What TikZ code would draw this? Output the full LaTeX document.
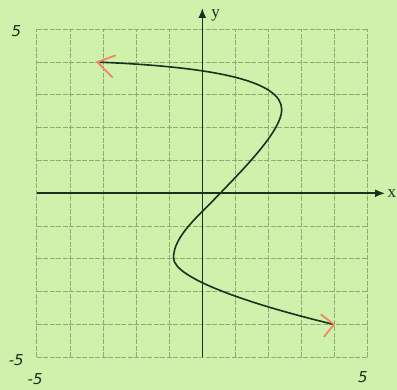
\documentclass[tikz,border=0pt]{standalone}
\usepackage{fontspec}
\usetikzlibrary{arrows.meta}
\setmainfont{Liberation Serif}
\newfontfamily\numfont{DejaVu Sans}
\definecolor{bg}{RGB}{206,242,172}
\definecolor{gridc}{RGB}{145,168,120}
\definecolor{axisc}{RGB}{28,48,28}
\definecolor{arrc}{RGB}{240,135,95}
\begin{document}
\begin{tikzpicture}[x=33.1pt,y=32.8pt,
  gridline/.style={gridc,line width=0.8pt,dash pattern=on 5pt off 1.5pt},
  axisline/.style={axisc,line width=1.6pt,-{Latex[length=10pt,width=8pt]}},
  curveline/.style={axisc,line width=1.6pt},
  chev/.style={arrc,line width=1.8pt,line cap=round},
  numlbl/.style={font=\numfont\fontsize{15}{17}\selectfont\itshape,text=axisc,inner sep=0pt},
  axlbl/.style={font=\fontsize{17}{19}\selectfont,text=axisc,inner sep=0pt}]
\fill[bg] (-6.112,-5.997) rectangle (5.882,5.893);
\useasboundingbox (-6.112,-5.997) rectangle (5.882,5.893);
\foreach \i in {-5,...,5} {
  \draw[gridline] (\i,-5) -- (\i,5);
  \draw[gridline] (-5,\i) -- (5,\i);
}
\coordinate (xl) at (-5,0);
\coordinate (xr) at (5.52,0);
\coordinate (yb) at (0,-5);
\coordinate (yt) at (0,5.65);
\draw[axisline] (xl) -- (xr);
\draw[axisline] (yb) -- (yt);
\node[axlbl] (xlab) at (5.73,0.0) {x};
\node[axlbl] (ylab) at (0.4,5.42) {y};
\node[numlbl] (n1) at (-5.62,4.95) {5};
\node[numlbl] (n2) at (-5.62,-5.08) {-5};
\node[numlbl] (n3) at (-5.05,-5.68) {-5};
\node[numlbl] (n4) at (4.85,-5.62) {5};
\coordinate (cs) at (-3.17,4.0);
\coordinate (cmax) at (2.4,2.55);
\coordinate (cmid) at (0.54,0);
\coordinate (cmin) at (-0.87,-1.97);
\coordinate (ce) at (3.98,-4.0);
\draw[curveline] (cs) .. controls (0.5,3.85) and (2.4,3.4) .. (cmax)
  .. controls (2.4,1.9) and (1.2,0.7) .. (cmid)
  .. controls (-0.1,-0.68) and (-0.87,-1.3) .. (cmin)
  .. controls (-0.87,-2.6) and (1.5,-3.4) .. (ce);
\draw[chev] ([shift={(0.54,0.2)}]cs) -- (cs) -- ([shift={(0.45,-0.46)}]cs);
\draw[chev] ([shift={(-0.39,0.3)}]ce) -- (ce) -- ([shift={(-0.3,-0.37)}]ce);
\end{tikzpicture}
\end{document}
